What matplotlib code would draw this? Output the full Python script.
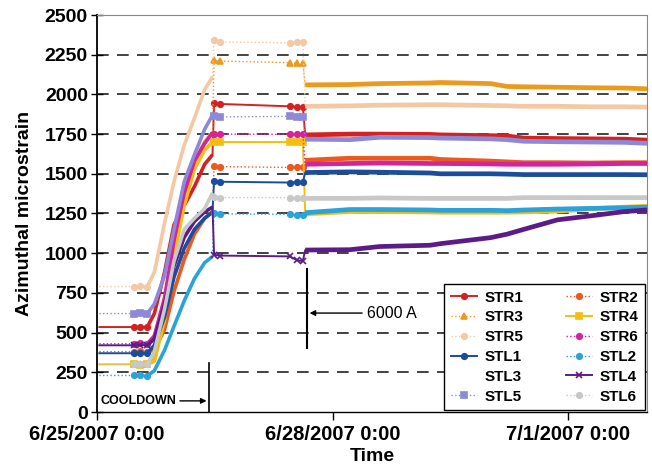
import numpy as np
import pandas as pd
import matplotlib
matplotlib.use("Agg")
import matplotlib.pyplot as plt
import matplotlib.dates as mdates
from matplotlib.ticker import FuncFormatter, MultipleLocator

plt.rcParams['font.family'] = ['Liberation Sans', 'DejaVu Sans']

# time in days since 6/25/2007 0:00
t_flat = [0.03, 0.47, 0.55, 0.64]
t_rise = [0.73, 0.86, 0.98, 1.11, 1.24, 1.37, 1.47]
t_plat = [1.49, 1.56, 2.45, 2.55, 2.62]
t_post = [2.65, 3.22, 3.60, 4.24, 4.37, 5.01, 5.22, 5.43, 5.86, 6.28, 6.71, 7.0]

# azimuthal microstrain, per gauge (flat | rise | plateau | after 6000 A)
str1 = [535, 535, 537, 535] + [620, 880, 1180, 1300, 1420, 1560, 1620] + [1945, 1940, 1925, 1920, 1922] + [1745, 1750, 1750, 1748, 1745, 1740, 1738, 1725, 1722, 1720, 1718, 1712]
str2 = [380, 380, 382, 378] + [390, 520, 760, 960, 1120, 1220, 1260] + [1548, 1545, 1540, 1545, 1545] + [1585, 1598, 1598, 1598, 1590, 1580, 1575, 1570, 1570, 1568, 1570, 1570]
str3 = [300, 300, 302, 300] + [330, 620, 1020, 1350, 1580, 1700, 1760] + [2215, 2210, 2200, 2195, 2195] + [2060, 2062, 2068, 2072, 2075, 2068, 2050, 2048, 2045, 2042, 2040, 2035]
str4 = [300, 300, 298, 300] + [320, 580, 980, 1300, 1530, 1650, 1700] + [1702, 1700, 1700, 1702, 1700] + [1248, 1262, 1262, 1260, 1258, 1258, 1258, 1260, 1265, 1280, 1290, 1295]
str5 = [790, 790, 792, 790] + [880, 1190, 1450, 1680, 1850, 2030, 2110] + [2340, 2330, 2325, 2330, 2330] + [1925, 1928, 1932, 1935, 1935, 1930, 1928, 1925, 1925, 1922, 1922, 1920]
str6 = [430, 430, 432, 430] + [480, 720, 1080, 1380, 1580, 1690, 1760] + [1752, 1750, 1748, 1752, 1750] + [1560, 1565, 1568, 1565, 1565, 1562, 1560, 1560, 1560, 1562, 1565, 1565]
stl1 = [370, 370, 372, 370] + [420, 600, 850, 1030, 1150, 1220, 1260] + [1455, 1450, 1445, 1448, 1448] + [1508, 1512, 1510, 1505, 1500, 1500, 1498, 1495, 1495, 1495, 1495, 1494]
stl2 = [230, 230, 232, 228] + [260, 390, 540, 700, 840, 940, 980] + [1250, 1248, 1245, 1240, 1240] + [1255, 1275, 1275, 1272, 1270, 1270, 1268, 1272, 1278, 1282, 1286, 1290]
stl4 = [420, 420, 422, 420] + [460, 680, 920, 1100, 1200, 1260, 1290] + [990, 985, 980, 955, 950] + [1020, 1022, 1042, 1050, 1060, 1098, 1120, 1150, 1210, 1235, 1262, 1272]
stl5 = [620, 620, 622, 620] + [680, 860, 1150, 1450, 1620, 1780, 1870] + [1865, 1858, 1862, 1858, 1855] + [1718, 1715, 1730, 1728, 1725, 1720, 1715, 1705, 1702, 1700, 1698, 1692]
stl6 = [300, 300, 302, 300] + [380, 650, 950, 1150, 1220, 1280, 1380] + [1355, 1350, 1350, 1350, 1350] + [1345, 1345, 1348, 1345, 1345, 1345, 1345, 1350, 1350, 1350, 1350, 1350]

t_all = np.array(t_flat + t_rise + t_plat + t_post)
start = pd.Timestamp('2007-06-25')
x_all = mdates.date2num(start + pd.to_timedelta(t_all, unit='D'))

# name, data, color, linestyle, marker
series = [
    ('STR1', str1, '#d42222', '-', 'o'),
    ('STR2', str2, '#ea5a1c', ':', 'o'),
    ('STR3', str3, '#ec9a1e', ':', '^'),
    ('STR4', str4, '#f2bf10', '-', 's'),
    ('STR5', str5, '#f4c8a2', ':', 'o'),
    ('STR6', str6, '#d2259c', ':', 'o'),
    ('STL1', stl1, '#1c4c9c', '-', 'o'),
    ('STL2', stl2, '#2ba2d8', ':', 'o'),
    ('STL3', None, 'white', '-', None),
    ('STL4', stl4, '#5c1c88', '-', 'x'),
    ('STL5', stl5, '#8c8ad8', ':', 's'),
    ('STL6', stl6, '#c8c8c8', ':', 'o'),
]

fig = plt.figure(figsize=(6.52, 4.65), dpi=100)
ax = fig.add_axes([97 / 652, 53 / 465, 550 / 652, 397 / 465])

for y in range(250, 2500, 250):
    ax.axhline(y, color='#222222', lw=1.2, ls=(0, (7, 5)), zorder=1)

n_flat = len(t_flat)
n_rise_end = n_flat + len(t_rise)
n_plat_end = n_rise_end + len(t_plat)
mark_idx = [1, 2, 3, n_rise_end, n_rise_end + 1, n_rise_end + 2, n_rise_end + 3, n_rise_end + 4]

handles = {}
for name, vals, color, ls, mk in series:
    if vals is None:
        handles[name], = ax.plot([], [], color=color, ls=ls, label=name)
        continue
    vals = np.array(vals)
    lw = 1.4 if ls == '-' else 1.0
    handles[name], = ax.plot(x_all, vals, color=color, ls=ls, lw=lw, marker=mk, ms=4,
                             mew=1.2, markevery=mark_idx, label=name, zorder=3)
    # dense parts of the record: cooldown ramp and the run after 6000 A
    ax.plot(x_all[n_flat - 1:n_rise_end], vals[n_flat - 1:n_rise_end],
            color=color, lw=2.6, solid_capstyle='butt', zorder=3)
    ax.plot(x_all[n_plat_end:], vals[n_plat_end:],
            color=color, lw=3.4, solid_capstyle='butt', zorder=3)

ax.set_xlim(mdates.date2num(start), mdates.date2num(start + pd.Timedelta(days=7)))
ax.set_ylim(0, 2500)
ax.yaxis.set_major_locator(MultipleLocator(250))
tick_days = [0, 3, 6]
ax.set_xticks([mdates.date2num(start + pd.Timedelta(days=d)) for d in tick_days])
ax.xaxis.set_major_formatter(FuncFormatter(
    lambda v, p: "%d/%d/%d 0:00" % (mdates.num2date(v).month, mdates.num2date(v).day, mdates.num2date(v).year)))

ax.tick_params(axis='y', direction='inout', length=9, width=1, labelsize=14, pad=2)
ax.tick_params(axis='x', direction='out', length=6, width=1, labelsize=14.5, pad=3)
for lab in ax.get_xticklabels() + ax.get_yticklabels():
    lab.set_fontweight('bold')
ax.spines['top'].set_color('#888888')
ax.spines['right'].set_color('#888888')
ax.spines['left'].set_linewidth(1.3)
ax.spines['bottom'].set_linewidth(1.0)

ax.set_ylabel('Azimuthal microstrain', fontsize=14, fontweight='bold', labelpad=8)
ax.set_xlabel('Time', fontsize=14, fontweight='bold', labelpad=3)

# cooldown marker
t_cool = mdates.date2num(start + pd.Timedelta(days=1.43))
ax.plot([t_cool, t_cool], [0, 310], color='black', lw=1.2, zorder=4)
ax.annotate('', xy=(t_cool, 70), xytext=(mdates.date2num(start + pd.Timedelta(days=1.02)), 70),
            arrowprops=dict(arrowstyle='-|>', color='black', lw=1, mutation_scale=8))
ax.text(mdates.date2num(start + pd.Timedelta(days=0.05)), 70, 'COOLDOWN',
        fontsize=9, fontweight='bold', va='center', ha='left')

# 6000 A marker
t_amp = mdates.date2num(start + pd.Timedelta(days=2.67))
ax.plot([t_amp, t_amp], [400, 900], color='black', lw=1.5, zorder=4)
ax.annotate('', xy=(t_amp, 623), xytext=(mdates.date2num(start + pd.Timedelta(days=3.41)), 623),
            arrowprops=dict(arrowstyle='-|>', color='black', lw=1, mutation_scale=8))
ax.text(mdates.date2num(start + pd.Timedelta(days=3.44)), 623, '6000 A',
        fontsize=11.5, va='center', ha='left')

# legend is filled column by column, so list the left column first
order = ['STR1', 'STR3', 'STR5', 'STL1', 'STL3', 'STL5',
         'STR2', 'STR4', 'STR6', 'STL2', 'STL4', 'STL6']
leg = ax.legend([handles[k] for k in order], order, ncol=2, loc='lower right',
                bbox_to_anchor=(1.0, 0.0), prop={'weight': 'bold', 'size': 11},
                frameon=True, fancybox=False, edgecolor='black', framealpha=1,
                labelspacing=0.38, handlelength=1.7, handletextpad=0.5,
                columnspacing=2.8, borderpad=0.45, borderaxespad=0.1)
leg.get_frame().set_linewidth(1.0)
leg.set_zorder(5)

fig.savefig('out.png', dpi=100)
